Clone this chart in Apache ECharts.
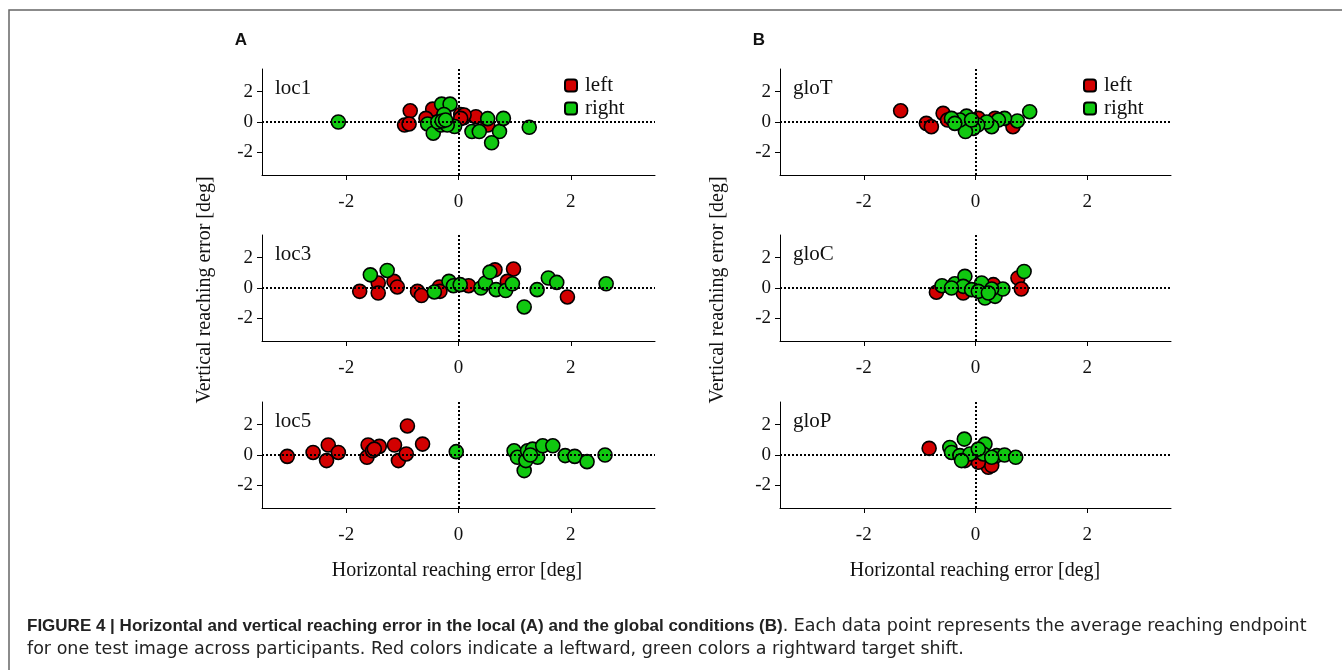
<!DOCTYPE html>
<html>
<head>
<meta charset="utf-8">
<script src="https://cdn.jsdelivr.net/npm/echarts@6/dist/echarts.min.js"></script>
<style>
html,body{margin:0;padding:0;background:#fff;}
#chart{width:1342px;height:670px;}
</style>
</head>
<body>
<div id="chart"></div>
<script>
// ---- data ----
const panelNames = ['loc1', 'loc3', 'loc5', 'gloT', 'gloC', 'gloP'];
const xTicks = [-2, 0, 2];
const yTicks = [-2, 0, 2];

const loc1Left = [[-0.86,0.74],[-0.96,-0.2],[-0.88,-0.13],[-0.46,0.85],[-0.58,0.24],[0.04,0.5],[0.09,0.28],[0.31,0.35],[0.1,0.46],[0.52,-0.2],[0.04,0.24],[-0.3,0.05]];
const loc1Right = [[-2.14,0],[-0.3,1.18],[-0.15,1.18],[-0.55,-0.13],[-0.45,-0.74],[-0.31,-0.2],[-0.26,0.5],[-0.37,0],[-0.07,-0.3],[-0.2,-0.2],[-0.29,0.07],[0.24,-0.63],[0.37,-0.63],[0.52,0.22],[0.73,-0.63],[0.8,0.24],[0.59,-1.37],[1.26,-0.35],[-0.23,0.13]];

const loc3Left = [[-1.76,-0.22],[-1.43,0.33],[-1.43,-0.33],[-1.15,0.44],[-1.09,0.07],[-0.73,-0.22],[-0.66,-0.5],[-0.34,0.07],[-0.33,-0.22],[0.18,0.15],[0.65,1.2],[0.98,1.25],[0.87,0.44],[1.94,-0.59]];
const loc3Right = [[-1.57,0.87],[-1.27,1.16],[-0.43,-0.26],[-0.17,0.44],[-0.09,0.15],[0.03,0.22],[0.4,0],[0.48,0.33],[0.56,1.05],[0.67,-0.11],[0.84,-0.17],[0.96,0.28],[1.17,-1.25],[1.4,-0.11],[1.6,0.66],[1.75,0.37],[2.63,0.28]];

const loc5Left = [[-3.05,-0.09],[-2.59,0.17],[-2.32,0.66],[-2.35,-0.37],[-2.14,0.17],[-1.61,0.66],[-1.63,-0.15],[-1.53,0.28],[-1.41,0.57],[-1.14,0.66],[-1.07,-0.37],[-0.93,0.07],[-0.91,1.92],[-0.64,0.72],[-1.5,0.39]];
const loc5Right = [[-0.04,0.22],[0.99,0.28],[1.05,-0.15],[1.17,-1.03],[1.2,-0.37],[1.23,0.28],[1.32,0.39],[1.41,-0.15],[1.5,0.61],[1.68,0.61],[1.9,-0.04],[2.07,-0.09],[2.29,-0.44],[2.61,0],[1.28,0]];

const gloTLeft = [[-1.34,0.74],[-0.88,-0.09],[-0.79,-0.31],[-0.58,0.57],[-0.5,0.13],[0.35,0.24],[0.67,-0.31],[0.05,0.24]];
const gloTRight = [[0.97,0.68],[0.75,0.07],[0.52,0.24],[0.41,0.13],[0.29,-0.31],[0.2,0],[0.04,-0.2],[-0.04,-0.42],[-0.18,-0.63],[-0.16,0.39],[-0.28,0.13],[-0.43,0.24],[-0.37,-0.09],[-0.07,0.13]];

const gloCLeft = [[-0.7,-0.28],[0.76,0.66],[0.82,-0.07],[0.32,0.22],[-0.22,-0.33]];
const gloCRight = [[0.87,1.09],[-0.6,0.15],[-0.37,0.28],[-0.19,0.77],[-0.22,0.11],[-0.07,-0.11],[0.11,0.33],[0.17,-0.66],[0.35,-0.55],[0.49,-0.07],[0.29,-0.07],[0.05,-0.22],[0.23,-0.33],[-0.43,0]];

const gloPLeft = [[-0.83,0.44],[0.23,-0.81],[0.29,-0.7],[0.05,-0.48],[-0.19,-0.37]];
const gloPRight = [[-0.2,1.05],[-0.46,0.5],[-0.43,0.17],[-0.28,-0.04],[-0.1,0.07],[0.17,0.72],[0.14,0.07],[0.38,-0.04],[0.52,0],[0.72,-0.15],[0.05,0.39],[-0.25,-0.37],[0.29,-0.15]];

const leftSets = [loc1Left, loc3Left, loc5Left, gloTLeft, gloCLeft, gloPLeft];
const rightSets = [loc1Right, loc3Right, loc5Right, gloTRight, gloCRight, gloPRight];

// ---- layout ----
const colLeft = [262, 780];
const colWidth = [393, 391];
const rowTop = [69, 235, 402];
const gridH = 106;
const serif = 'Liberation Serif';
const RED = '#d20000';
const GREEN = '#10c810';

const grids = [], xAxes = [], yAxes = [], series = [], graphics = [];
for (let i = 0; i < 6; i++) {
  const c = Math.floor(i / 3), r = i % 3;
  grids.push({left: colLeft[c], top: rowTop[r], width: colWidth[c], height: gridH, containLabel: false});
  xAxes.push({
    gridIndex: i, type: 'value', min: -3.5, max: 3.5,
    axisLine: {show: true, onZero: false, lineStyle: {color: '#000', width: 1}},
    axisTick: {show: true, customValues: xTicks, length: 5, inside: false, lineStyle: {color: '#000', width: 1}},
    axisLabel: {show: true, customValues: xTicks, fontFamily: serif, fontSize: 19, color: '#111', margin: 18},
    splitLine: {show: false}
  });
  yAxes.push({
    gridIndex: i, type: 'value', min: -3.5, max: 3.5,
    axisLine: {show: true, onZero: false, lineStyle: {color: '#000', width: 1}},
    axisTick: {show: true, customValues: yTicks, length: 5, inside: false, lineStyle: {color: '#000', width: 1}},
    axisLabel: {show: true, customValues: yTicks, fontFamily: serif, fontSize: 19, color: '#111', margin: 9},
    splitLine: {show: false}
  });
  series.push({
    name: 'left', type: 'scatter', xAxisIndex: i, yAxisIndex: i, data: leftSets[i],
    symbol: 'circle', symbolSize: 14, z: 2,
    itemStyle: {color: RED, borderColor: '#000', borderWidth: 1.6, opacity: 1}
  });
  series.push({
    name: 'right', type: 'scatter', xAxisIndex: i, yAxisIndex: i, data: rightSets[i],
    symbol: 'circle', symbolSize: 14, z: 3,
    itemStyle: {color: GREEN, borderColor: '#000', borderWidth: 1.6, opacity: 1}
  });
  series.push({
    name: 'zero', type: 'scatter', xAxisIndex: i, yAxisIndex: i, data: [], z: 6, silent: true,
    markLine: {
      symbol: 'none', silent: true, animation: false, label: {show: false},
      lineStyle: {color: '#000', type: [2, 2], width: 2},
      emphasis: {disabled: true},
      data: [{xAxis: 0}, {yAxis: 0}]
    }
  });
  graphics.push({
    type: 'text', x: colLeft[c] + 13, y: rowTop[r] + 19,
    style: {text: panelNames[i], font: '21px "' + serif + '"', fill: '#111', verticalAlign: 'middle'}
  });
}

// axis names, panel letters, frame, caption
for (let c = 0; c < 2; c++) {
  graphics.push({
    type: 'text', x: [205, 718][c], y: 290, rotation: Math.PI / 2,
    style: {text: 'Vertical reaching error [deg]', font: '20px "' + serif + '"', fill: '#111', align: 'center', verticalAlign: 'middle'}
  });
  graphics.push({
    type: 'text', x: [457, 975][c], y: 571,
    style: {text: 'Horizontal reaching error [deg]', font: '20px "' + serif + '"', fill: '#111', align: 'center', verticalAlign: 'middle'}
  });
  graphics.push({
    type: 'text', x: [241, 759][c], y: 40,
    style: {text: ['A', 'B'][c], font: 'bold 17px "Liberation Sans"', fill: '#111', align: 'center', verticalAlign: 'middle'}
  });
}
graphics.push({
  type: 'polyline', shape: {points: [[9, 670], [9, 10], [1342, 10]]},
  style: {stroke: '#666', lineWidth: 1.5, fill: null}, silent: true
});
graphics.push({
  type: 'text', x: 27, y: 626,
  style: {
    text: '{b|FIGURE 4 | Horizontal and vertical reaching error in the local (A) and the global conditions (B)}{n|. Each data point represents the average reaching endpoint}',
    verticalAlign: 'middle',
    rich: {
      b: {fontFamily: 'Liberation Sans', fontWeight: 'bold', fontSize: 17, fill: '#222'},
      n: {fontFamily: 'DejaVu Sans', fontSize: 17.5, fill: '#222'}
    }
  }
});
graphics.push({
  type: 'text', x: 27, y: 649,
  style: {
    text: 'for one test image across participants. Red colors indicate a leftward, green colors a rightward target shift.',
    font: '17.5px "DejaVu Sans"', fill: '#222', verticalAlign: 'middle'
  }
});

const legendBase = {
  orient: 'vertical', top: 70, data: ['left', 'right'], icon: 'roundRect',
  itemWidth: 12, itemHeight: 12, itemGap: 2, selectedMode: false,
  textStyle: {fontFamily: serif, fontSize: 21, color: '#111', lineHeight: 20, padding: [0, 0, 0, 3]}
};

const option = {
  animation: false,
  backgroundColor: '#fff',
  grid: grids,
  xAxis: xAxes,
  yAxis: yAxes,
  legend: [Object.assign({left: 559}, legendBase), Object.assign({left: 1078}, legendBase)],
  series: series,
  graphic: graphics
};

const chart = echarts.init(document.getElementById('chart'), null, {renderer: 'canvas'});
chart.setOption(option);
</script>
</body>
</html>
